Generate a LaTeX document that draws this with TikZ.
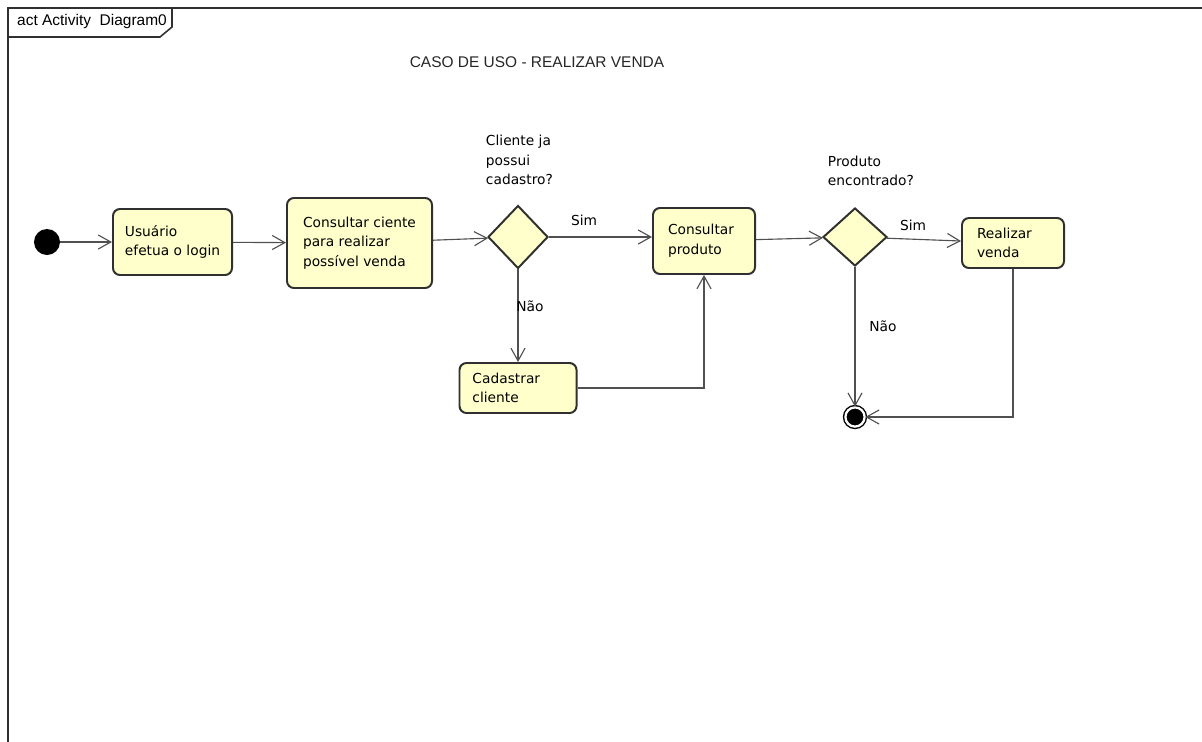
\documentclass[tikz,border=0pt]{standalone}
\usepackage{fontspec}
\setmainfont{DejaVu Sans}
\newfontfamily\headfont{Liberation Sans}
\usepackage{xcolor}
\usetikzlibrary{positioning}
\usetikzlibrary{shapes}
\usetikzlibrary{arrows.meta}
\tikzset{>={Straight Barb[length=9pt,width=10pt]}}
\definecolor{actfill}{HTML}{FFFFCC}
\definecolor{actline}{HTML}{303030}
\definecolor{flowline}{HTML}{505050}

\begin{document}
\begin{tikzpicture}[
            x=0.025cm, y=-0.025cm,
            font=\fontsize{9.8}{14}\selectfont,
            action/.style={draw=actline, line width=1.4pt, fill=actfill, rounded corners=5pt, align=left, inner sep=0pt},
            decision/.style={diamond, draw=actline, line width=1.4pt, fill=actfill, inner sep=0pt},
            flow/.style={->, draw=flowline, line width=0.8pt}
        ]
        \useasboundingbox (0,0) rectangle (1202,742);
        \clip (0,0) rectangle (1202,742);
        % frame
        \draw[actline, line width=1.1pt] (8,8) rectangle (1230,770);
        \draw[actline, line width=1.1pt] (8,37) -- (160,37) -- (172,27) -- (172,8);
        \node[font=\headfont\fontsize{11}{13}\selectfont] (frame) at (92,22) {act Activity\ \ Diagram0};
        \node[font=\headfont\fontsize{11}{13}\selectfont, text=black!85] (title) at (537,62) {CASO DE USO - REALIZAR VENDA};
        % start
        \node[circle, fill=black, minimum size=0.65cm, inner sep=0pt] (start) at (47,242) {};
        % login
        \node[action, minimum width=2.975cm, minimum height=1.65cm] (login) at (172.5,242) {Usuário\\efetua o login};
        \path[flow] (start) edge (login);
        % consulta cliente
        \node[action, minimum width=3.625cm, minimum height=2.25cm] (consCli) at (359.5,243) {Consultar ciente\\para realizar\\possível venda};
        \path[flow] (login) edge (consCli);
        % cliente ja possui cadastro
        \node[decision, minimum width=1.5cm, minimum height=1.575cm] (decCli) at (518,237) {};
        \node[anchor=west, align=left] (decCliTxt) at (481,160) {Cliente ja\\possui\\cadastro?};
        \path[flow] (consCli) edge (decCli);
        % consultar produto
        \node[action, minimum width=2.55cm, minimum height=1.65cm, inner xsep=0.375cm, text width=1.8cm] (consProd) at (704,241) {Consultar\\produto};
        \draw[flow] (decCli.east) -- (decCli.east -| consProd.west);
        \node (simCli) at (584,220) {Sim};
        % cadastrar cliente
        \node[action, minimum width=2.925cm, minimum height=1.25cm, inner xsep=0.325cm, text width=2.275cm] (cadCli) at (518,388) {Cadastrar\\cliente};
        \draw[flow] (decCli.south) -- (cadCli.north);
        \node (naoCli) at (530,306) {Não};
        \draw[flow] (cadCli.east) -| (consProd.south);
        % produto encontrado
        \node[decision, minimum width=1.6cm, minimum height=1.45cm] (decProd) at (855,237) {};
        \node[anchor=west, align=left] (decProdTxt) at (823,171) {Produto\\encontrado?};
        \path[flow] (consProd) edge (decProd);
        % realizar venda
        \node[action, minimum width=2.55cm, minimum height=1.25cm, inner xsep=0.375cm, text width=1.8cm] (venda) at (1013,243) {Realizar\\venda};
        \path[flow] (decProd) edge (venda);
        \node (simProd) at (913,225) {Sim};
        % end
        \node[circle, draw=black, fill=black, line width=1pt, double=white, double distance=1.6pt, minimum size=0.48cm, inner sep=0pt] (end) at (855,417) {};
        \draw[flow] (decProd.south) -- (end);
        \node (naoProd) at (883,326) {Não};
        \draw[flow] (venda.south) |- (end.east);
        \end{tikzpicture}
\end{document}
